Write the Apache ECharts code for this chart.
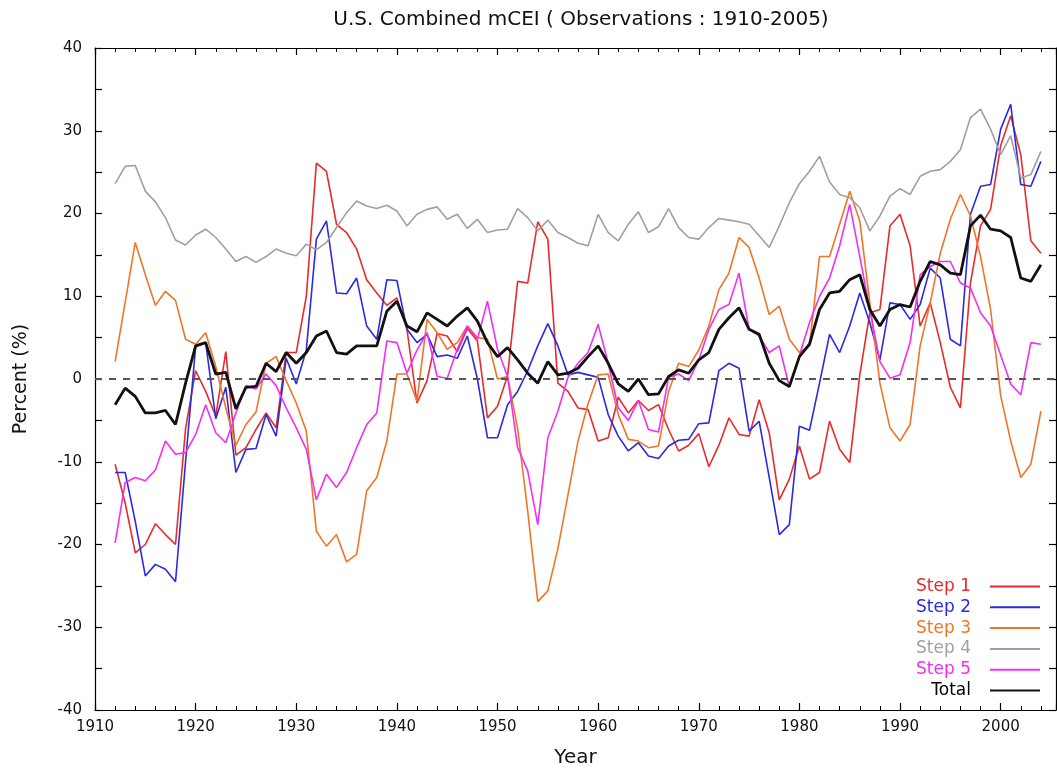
<!DOCTYPE html>
<html>
<head>
<meta charset="utf-8">
<script src="https://cdn.jsdelivr.net/npm/echarts@6/dist/echarts.min.js"></script>
<style>
html,body{margin:0;padding:0;background:#fff;}
#chart{width:1057px;height:774px;}
</style>
</head>
<body>
<div id="chart"></div>
<script>
// Years 1912..2004
const years = [];
for (let y = 1912; y <= 2004; y++) years.push(y);

const step1 = [-10.3,-15.0,-21.0,-20.0,-17.5,-18.8,-20.0,-6.0,1.0,-1.5,-4.5,3.3,-9.2,-8.3,-6.1,
 -4.1,-5.9,3.2,3.2,10.0,26.1,25.1,18.7,17.7,15.7,12.0,10.4,8.9,9.8,6.0,-2.9,
 -0.2,5.5,5.2,3.3,6.1,4.6,-4.7,-3.3,0.4,11.8,11.6,19.0,16.9,-0.5,-1.5,-3.5,
 -3.7,-7.5,-7.1,-2.2,-4.1,-2.6,-3.8,-3.1,-6.1,-8.7,-8.0,-6.6,-10.6,-8.0,-4.7,-6.7,
 -6.9,-2.5,-6.5,-14.6,-12.1,-8.1,-12.1,-11.3,-5.1,-8.5,-10.1,0.5,8.0,8.4,18.5,19.9,
 16.1,6.4,9.2,4.4,-1.0,-3.5,11.6,18.5,20.5,28.2,31.8,27.1,16.7,15.2];

const step2 = [-11.3,-11.3,-17.2,-23.8,-22.4,-23.0,-24.5,-10.0,3.9,4.4,-4.8,-1.0,-11.3,-8.5,-8.4,
 -4.3,-6.9,2.5,-0.6,3.5,16.9,19.1,10.4,10.3,12.2,6.4,4.8,12.0,11.9,6.0,4.4,
 5.4,2.7,2.9,2.5,5.2,0.0,-7.1,-7.1,-3.1,-1.5,1.0,4.0,6.7,4.0,0.5,0.8,
 0.5,0.2,-4.3,-6.9,-8.7,-7.7,-9.3,-9.6,-8.1,-7.4,-7.3,-5.4,-5.3,1.0,1.9,1.3,
 -6.3,-5.1,-11.9,-18.8,-17.6,-5.7,-6.2,-0.5,5.4,3.2,6.4,10.4,6.8,2.3,9.2,9.0,
 7.2,9.0,13.4,12.2,4.8,4.0,19.9,23.3,23.5,30.2,33.2,23.5,23.3,26.3];

const step3 = [2.1,9.3,16.5,12.6,8.9,10.6,9.5,4.8,4.2,5.6,1.5,-3.5,-8.0,-5.5,-4.0,
 1.9,2.7,-0.2,-2.9,-6.3,-18.4,-20.2,-18.8,-22.1,-21.2,-13.5,-11.9,-7.5,0.6,0.6,-2.7,
 7.2,5.6,3.6,4.4,6.4,5.0,4.8,0.0,0.3,-6.0,-16.0,-26.9,-25.6,-20.5,-14.0,-7.5,
 -3.0,0.5,0.6,-4.3,-7.3,-7.5,-8.3,-8.1,-1.5,1.9,1.5,3.5,6.4,10.8,12.8,17.1,
 15.9,12.2,7.8,8.8,4.8,3.2,4.0,14.8,14.8,18.7,22.7,19.1,9.2,-0.5,-5.9,-7.5,
 -5.5,4.0,9.2,15.2,19.3,22.3,19.7,14.8,8.4,-2.0,-7.5,-11.9,-10.3,-3.9];

const step4 = [23.6,25.7,25.8,22.7,21.4,19.5,16.8,16.2,17.4,18.1,17.1,15.7,14.2,14.8,14.1,
 14.8,15.7,15.2,14.9,16.3,15.6,16.5,18.3,20.1,21.5,20.9,20.6,21.0,20.3,18.5,19.9,
 20.5,20.8,19.3,19.9,18.2,19.3,17.7,18.0,18.1,20.6,19.5,17.9,19.2,17.7,17.1,16.4,
 16.1,19.9,17.7,16.7,18.7,20.2,17.7,18.4,20.6,18.3,17.1,16.9,18.3,19.4,19.2,19.0,
 18.7,17.3,15.9,18.5,21.3,23.6,25.1,26.9,23.8,22.3,21.9,20.7,17.9,19.7,22.1,23.0,
 22.3,24.5,25.1,25.3,26.3,27.7,31.6,32.6,30.2,27.1,29.4,24.3,24.7,27.5];

const step5 = [-19.8,-12.5,-11.9,-12.3,-11.0,-7.5,-9.1,-8.9,-6.7,-3.1,-6.5,-7.7,-4.1,-0.8,-1.2,
 0.6,-0.8,-3.5,-5.9,-8.5,-14.6,-11.5,-13.1,-11.3,-8.3,-5.5,-4.1,4.6,4.4,0.7,3.5,
 5.6,0.3,0.1,3.6,6.4,4.8,9.4,3.6,0.3,-8.3,-11.1,-17.6,-7.1,-3.9,0.2,1.9,
 3.2,6.6,1.9,-3.5,-5.0,-2.6,-6.1,-6.4,0.2,0.6,-0.2,2.3,6.0,8.4,9.0,12.8,
 6.0,5.2,3.2,4.0,-1.0,2.8,6.8,10.0,12.2,16.1,21.1,14.8,8.4,2.1,0.1,0.5,
 4.4,12.6,13.6,14.2,14.2,11.6,11.0,8.0,6.4,2.9,-0.6,-1.9,4.4,4.2];

const total = [-3.1,-1.1,-2.1,-4.1,-4.1,-3.8,-5.5,-0.5,4.0,4.4,0.6,0.8,-3.6,-1.0,-0.9,
 1.9,0.9,3.2,1.9,3.2,5.2,5.8,3.2,3.0,4.0,4.0,4.0,8.2,9.4,6.4,5.7,
 8.0,7.2,6.4,7.6,8.6,7.0,4.4,2.7,3.8,2.3,0.7,-0.5,2.1,0.5,0.7,1.3,
 2.7,4.0,1.9,-0.6,-1.5,0.0,-1.9,-1.8,0.3,1.1,0.7,2.3,3.2,6.0,7.4,8.6,
 6.0,5.4,1.9,-0.2,-0.9,2.7,4.2,8.4,10.4,10.6,12.0,12.6,8.4,6.4,8.4,9.0,
 8.7,11.8,14.2,13.8,12.8,12.6,18.5,19.8,18.1,17.9,17.1,12.2,11.8,13.8];

const seriesNames = ['Step 1','Step 2','Step 3','Step 4','Step 5','Total'];
const seriesData = [step1, step2, step3, step4, step5, total];
const colors = ['#e82a2a','#2a2ae0','#f07528','#a0a0a0','#f22ef2','#111111'];
const widths = [1.6,1.6,1.6,1.6,1.6,2.8];

const FONT = '"DejaVu Sans", Verdana, sans-serif';
const chart = echarts.init(document.getElementById('chart'));

const series = seriesData.map((d, i) => ({
  name: seriesNames[i],
  type: 'line',
  data: d.map((v, j) => [years[j], v]),
  showSymbol: false,
  symbol: 'none',
  lineStyle: { color: colors[i], width: widths[i] },
  itemStyle: { color: colors[i] },
  z: i === 5 ? 5 : 3,
  animation: false
}));
series.unshift({
  name: 'zero',
  type: 'line',
  data: [],
  markLine: {
    silent: true,
    symbol: 'none',
    label: { show: false },
    lineStyle: { color: '#555', type: [7, 7], width: 2 },
    data: [{ yAxis: 0 }]
  },
  z: 1,
  animation: false
});

const legends = seriesNames.map((n, i) => ({
  data: [{ name: n, textStyle: { color: colors[i] === '#111111' ? '#000' : colors[i] } }],
  right: 17,
  top: 578 + i * 20.8,
  align: 'right',
  orient: 'vertical',
  icon: 'rect',
  itemWidth: 50,
  itemHeight: 2,
  selectedMode: false,
  padding: 0,
  textStyle: { fontSize: 17, fontFamily: FONT, padding: [0, 14, 0, 0] }
}));

const axisCommonX = {
  type: 'value', min: 1910, max: 2005.5, interval: 10,
  axisLine: { show: true, onZero: false, lineStyle: { color: '#000', width: 1.2 } },
  axisTick: { show: true, inside: true, length: 7, lineStyle: { color: '#000', width: 1.2 } },
  minorTick: { show: true, splitNumber: 5, length: 4, lineStyle: { color: '#000', width: 1 } },
  splitLine: { show: false }
};
const axisCommonY = {
  type: 'value', min: -40, max: 40, interval: 10,
  axisLine: { show: true, onZero: false, lineStyle: { color: '#000', width: 1.2 } },
  axisTick: { show: true, inside: true, length: 7, lineStyle: { color: '#000', width: 1.2 } },
  minorTick: { show: true, splitNumber: 2, length: 7, lineStyle: { color: '#000', width: 1.2 } },
  splitLine: { show: false }
};

chart.setOption({
  backgroundColor: '#fff',
  animation: false,
  title: {
    text: 'U.S. Combined mCEI ( Observations : 1910-2005)',
    left: 576, top: 5, textAlign: 'center',
    textStyle: { fontSize: 20, fontWeight: 'normal', color: '#111', fontFamily: FONT }
  },
  legend: legends,
  grid: { left: 95, right: 1, top: 48, bottom: 64, containLabel: false },
  xAxis: [
    Object.assign({}, axisCommonX, {
      position: 'bottom',
      name: 'Year', nameLocation: 'middle', nameGap: 38,
      nameTextStyle: { fontSize: 20, color: '#111', fontFamily: FONT },
      axisLabel: { show: true, fontSize: 15, color: '#111', margin: 10, fontFamily: FONT,
        showMaxLabel: false, formatter: v => (v % 10 === 0 ? String(v) : '') }
    }),
    Object.assign({}, axisCommonX, { position: 'top', axisLabel: { show: false } })
  ],
  yAxis: [
    Object.assign({}, axisCommonY, {
      position: 'left',
      name: 'Percent (%)', nameLocation: 'middle', nameGap: 64, nameRotate: 90,
      nameTextStyle: { fontSize: 19, color: '#111', fontFamily: FONT },
      axisLabel: { show: true, fontSize: 15, color: '#111', margin: 13, fontFamily: FONT }
    }),
    Object.assign({}, axisCommonY, { position: 'right', axisLabel: { show: false } })
  ],
  series: series
});
</script>
</body>
</html>
